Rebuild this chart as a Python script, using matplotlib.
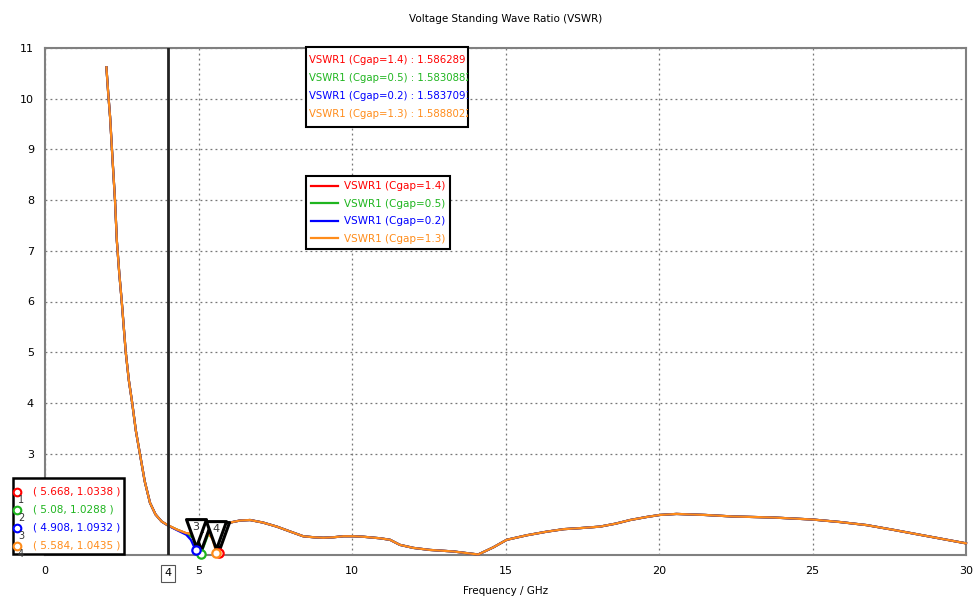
import numpy as np
import matplotlib
matplotlib.use('Agg')
import matplotlib.pyplot as plt
from matplotlib.patches import Rectangle
from matplotlib.path import Path
from matplotlib.transforms import offset_copy, blended_transform_factory

plt.rcParams['font.family'] = ['DejaVu Sans']
plt.rcParams['font.size'] = 7.5

# Shared part of the sweep below the resonance (GHz, VSWR)
freq_lo = [2.0, 2.06, 2.12, 2.2, 2.28, 2.34, 2.42, 2.5, 2.63, 2.73, 2.84, 2.96, 3.09,
           3.25, 3.42, 3.6, 3.8]
vswr_lo = [10.62, 10.1, 9.64, 8.8, 8.0, 7.2, 6.55, 6.0, 5.0, 4.45, 4.0, 3.45, 3.0,
           2.45, 2.03, 1.8, 1.66]

# Shared part above the resonance
freq_hi = [6.03, 6.35, 6.68, 7.1, 7.55, 8.0, 8.41, 8.75, 9.07, 9.4, 9.72, 10.05, 10.37,
           10.91, 11.24, 11.56, 12.0, 12.54, 13.3, 13.7, 14.11, 14.6, 15.04, 15.7,
           16.34, 16.9, 17.43, 18.08, 18.6, 19.06, 19.6, 20.03, 20.57, 21.5, 22.4,
           23.7, 25.0, 25.9, 26.76, 27.6, 28.4, 29.2, 30.0]
vswr_hi = [1.64, 1.68, 1.69, 1.64, 1.56, 1.46, 1.37, 1.35, 1.34, 1.35, 1.37, 1.37, 1.36,
           1.33, 1.30, 1.20, 1.14, 1.10, 1.07, 1.04, 1.01, 1.15, 1.30, 1.39,
           1.46, 1.51, 1.53, 1.56, 1.62, 1.69, 1.75, 1.79, 1.81, 1.79, 1.76,
           1.74, 1.70, 1.65, 1.59, 1.50, 1.41, 1.32, 1.23]

labels = ['VSWR1 (Cgap=1.4)', 'VSWR1 (Cgap=0.5)', 'VSWR1 (Cgap=0.2)', 'VSWR1 (Cgap=1.3)']
colors = ['#ff0000', '#1fb51f', '#0000ff', '#ff8c1a']

# Value of each trace at the 4 GHz marker line
at_4ghz = [1.586289, 1.5830882, 1.5837091, 1.5888022]

# Resonance minimum of each trace (marker positions)
min_freq = [5.668, 5.08, 4.908, 5.584]
min_vswr = [1.0338, 1.0288, 1.0932, 1.0435]

# Points around the resonance dip for each trace
dip_freq = [
    [4.3, 4.6, 5.0, 5.3, 5.5, 5.668, 5.85, 6.0],
    [4.3, 4.6, 4.85, 5.08, 5.3, 5.6, 5.85],
    [4.3, 4.6, 4.75, 4.908, 5.05, 5.3, 5.6, 5.85],
    [4.3, 4.6, 5.0, 5.3, 5.45, 5.584, 5.8, 6.0],
]
dip_vswr = [
    [1.50, 1.43, 1.40, 1.43, 1.32, 1.0338, 1.50, 1.63],
    [1.50, 1.42, 1.33, 1.0288, 1.38, 1.54, 1.61],
    [1.49, 1.40, 1.30, 1.0932, 1.34, 1.50, 1.58, 1.62],
    [1.50, 1.43, 1.40, 1.44, 1.32, 1.0435, 1.50, 1.63],
]

W, H = 973, 599
fig = plt.figure(figsize=(W / 100, H / 100), dpi=100)
ax = fig.add_axes([45 / W, 44 / H, 921 / W, 507 / H])


def fpx(x, y):
    # pixel position (from top-left) to figure fraction
    return x / W, 1 - y / H


for i in range(4):
    f = freq_lo + [4.0] + dip_freq[i] + freq_hi
    v = vswr_lo + [at_4ghz[i]] + dip_vswr[i] + vswr_hi
    ax.plot(f, v, color=colors[i], lw=1.6, label=labels[i], zorder=3, clip_on=False)

ax.set_xlim(0, 30)
ax.set_ylim(1, 11)
ax.set_xticks([0, 5, 10, 15, 20, 25, 30])
ax.set_yticks(range(3, 12))
ax.tick_params(length=0, pad=8, labelsize=8)
ax.grid(True, linestyle=(0, (1.5, 2.5)), color='#777777', lw=0.9)
for s in ax.spines.values():
    s.set_color('#808080')
    s.set_linewidth(1.5)

ax.set_title('Voltage Standing Wave Ratio (VSWR)', fontsize=7.5, pad=19)
ax.set_xlabel('Frequency / GHz', fontsize=7.5, labelpad=7)

# marker line at 4 GHz
ax.axvline(4, color='#222222', lw=2, zorder=4)
trans = blended_transform_factory(ax.transData, ax.transAxes)
ax.text(4, -0.036, '4', transform=trans, ha='center', va='center', fontsize=8,
        bbox=dict(boxstyle='square,pad=0.3', fc='white', ec='#555555', lw=0.8))

# resonance markers: numbered triangle flags (later ones on top), then circles
tri = Path([(-0.72, 1.0), (0.72, 1.0), (0.0, -1.0), (-0.72, 1.0)], closed=True)
tri_tr = offset_copy(ax.transData, fig=fig, x=0, y=12.5, units='points')
txt_tr = offset_copy(ax.transData, fig=fig, x=0, y=17, units='points')
for i in range(4):
    ax.plot(min_freq[i], min_vswr[i], marker=tri, ms=20, mfc='white', mec='black',
            mew=2.2, transform=tri_tr, zorder=5 + 2 * i, clip_on=False)
    ax.text(min_freq[i], min_vswr[i], str(i + 1), transform=txt_tr, ha='center',
            va='center', fontsize=8, color='#333333', zorder=6 + 2 * i, clip_on=False)
for i in range(4):
    ax.plot(min_freq[i], min_vswr[i], 'o', ms=6, mfc='white', mec=colors[i], mew=1.6,
            zorder=14, clip_on=False)

# marker readout box (bottom left)
x0, y0 = fpx(13, 554)
x1, y1 = fpx(124, 478)
fig.patches.append(Rectangle((x0, y0), x1 - x0, y1 - y0, transform=fig.transFigure,
                             fc='white', ec='black', lw=1.8, zorder=8))
for i in range(4):
    ry = 492 + 18 * i
    cx, cy = fpx(17, ry)
    fig.lines.append(plt.Line2D([cx], [cy], marker='o', ms=5.5, mfc='white', mec=colors[i],
                                mew=1.5, transform=fig.transFigure, zorder=9))
    fig.text(*fpx(21, ry + 8), str(i + 1), fontsize=7, color='#333333', ha='center',
             va='center', zorder=9)
    fig.text(*fpx(33, ry), '( {}, {} )'.format(min_freq[i], min_vswr[i]), color=colors[i],
             fontsize=7.5, ha='left', va='center', zorder=9)

# readout box at the 4 GHz line (top); long values run past the frame and get cut
x0, y0 = fpx(306, 127)
x1, y1 = fpx(468, 47)
box = Rectangle((x0, y0), x1 - x0, y1 - y0, transform=fig.transFigure,
                fc='white', ec='black', lw=1.5, zorder=8)
fig.patches.append(box)
for i in range(4):
    t = fig.text(*fpx(309, 60 + 18 * i), '{} : {}'.format(labels[i], at_4ghz[i]),
                 color=colors[i], fontsize=7.3, ha='left', va='center', zorder=9)
    t.set_clip_path(box)

# legend
leg = ax.legend(loc='upper left', bbox_to_anchor=((306 - 45) / 921, (555 - 176) / 507),
                frameon=True, fancybox=False, fontsize=7.5, handlelength=2.6,
                borderpad=0.5, labelspacing=0.72, handletextpad=0.5, borderaxespad=0)
leg.get_frame().set_edgecolor('black')
leg.get_frame().set_linewidth(1.5)
leg.get_frame().set_alpha(1)
for t, c in zip(leg.get_texts(), colors):
    t.set_color(c)

fig.savefig('out.png', dpi=100)
